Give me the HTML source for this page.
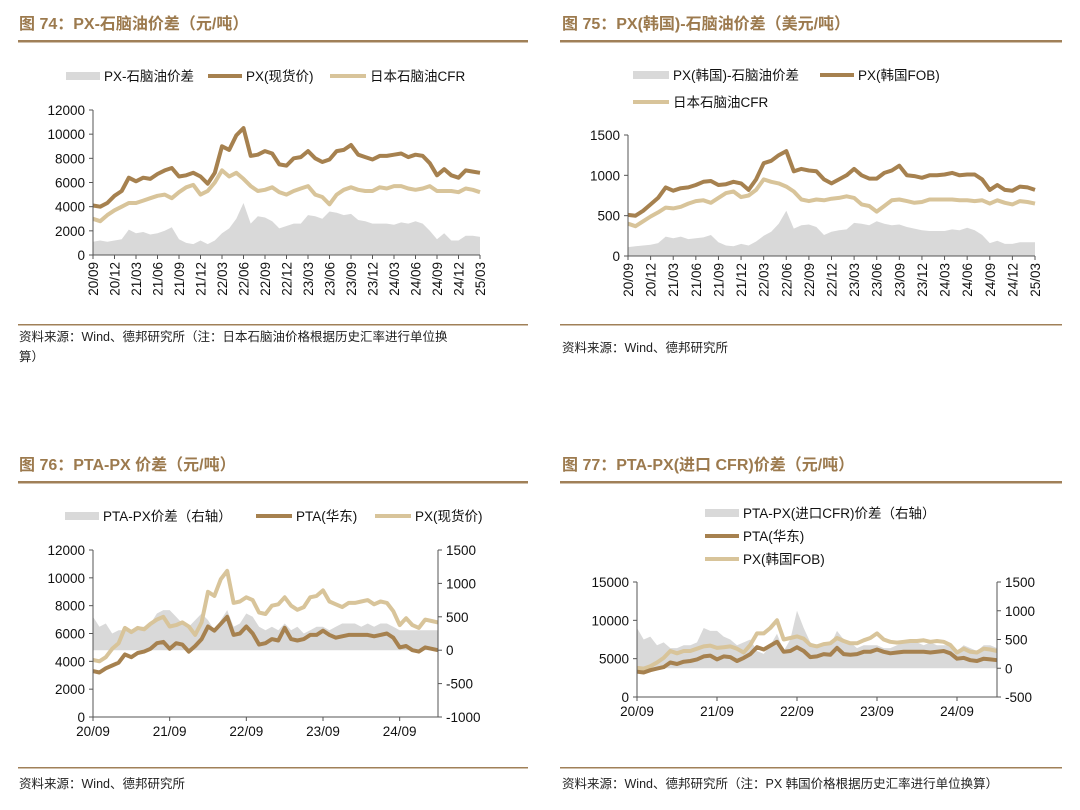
<!DOCTYPE html>
<html><head><meta charset="utf-8"><style>
body{margin:0;background:#fff;width:1080px;height:810px;overflow:hidden}
svg{display:block;font-family:"Liberation Sans","Noto Sans CJK SC",sans-serif}
.t{font-weight:bold;font-size:16px;fill:#9c7a4e}
.ax{font-size:13.5px;fill:#111}
.lg{font-size:13.5px;fill:#111}
.src{font-size:12.5px;fill:#222}
</style></head><body>
<svg id="s" width="1080" height="810" viewBox="0 0 1080 810">
<g>
<text class="t" x="19" y="29">图 74：PX-石脑油价差（元/吨）</text>
<rect x="18" y="40" width="510" height="2.5" fill="#a08058"/>
<text class="t" x="562" y="29">图 75：PX(韩国)-石脑油价差（美元/吨）</text>
<rect x="560" y="40" width="502" height="2.5" fill="#a08058"/>
<text class="t" x="19" y="470">图 76：PTA-PX 价差（元/吨）</text>
<rect x="18" y="481" width="510" height="2.5" fill="#a08058"/>
<text class="t" x="562" y="470">图 77：PTA-PX(进口 CFR)价差（元/吨）</text>
<rect x="560" y="481" width="502" height="2.5" fill="#a08058"/>
<rect x="18" y="324" width="510" height="1.5" fill="#a08058"/>
<rect x="560" y="324" width="502" height="1.5" fill="#a08058"/>
<rect x="18" y="767" width="510" height="1.5" fill="#a08058"/>
<rect x="560" y="767" width="502" height="1.5" fill="#a08058"/>
<text class="src" x="19" y="341">资料来源：Wind、德邦研究所（注：日本石脑油价格根据历史汇率进行单位换</text>
<text class="src" x="19" y="361">算）</text>
<text class="src" x="562" y="352">资料来源：Wind、德邦研究所</text>
<text class="src" x="19" y="788">资料来源：Wind、德邦研究所</text>
<text class="src" x="562" y="788">资料来源：Wind、德邦研究所（注：PX 韩国价格根据历史汇率进行单位换算）</text>
</g>
</svg>
<script>
// Monthly data 2020/09 .. 2025/03
const months = ["20/09","20/10","20/11","20/12","21/01","21/02","21/03","21/04","21/05","21/06","21/07","21/08","21/09","21/10","21/11","21/12","22/01","22/02","22/03","22/04","22/05","22/06","22/07","22/08","22/09","22/10","22/11","22/12","23/01","23/02","23/03","23/04","23/05","23/06","23/07","23/08","23/09","23/10","23/11","23/12","24/01","24/02","24/03","24/04","24/05","24/06","24/07","24/08","24/09","24/10","24/11","24/12","25/01","25/02","25/03"];
const pxSpot = [4100,4000,4300,4900,5300,6400,6100,6400,6300,6700,7000,7200,6500,6600,6800,6500,5900,6800,9000,8700,9900,10500,8200,8300,8600,8400,7500,7400,8000,8100,8600,8000,7700,7900,8600,8700,9100,8300,8100,7900,8200,8200,8300,8400,8100,8300,8200,7600,6600,7100,6600,6400,7000,6900,6800];
const naphthaCny = [3000,2800,3300,3700,4000,4300,4300,4500,4700,4900,5000,4700,5200,5600,5800,5000,5300,6000,7000,6500,6800,6300,5700,5300,5400,5600,5200,5000,5300,5500,5700,5000,4800,4200,5000,5400,5600,5400,5300,5300,5600,5500,5700,5700,5500,5400,5500,5700,5300,5300,5300,5200,5500,5400,5200];
const spreadCny = [1100,1200,1100,1200,1300,2100,1800,1900,1700,1800,2000,2300,1300,1000,900,1200,900,1200,1800,2200,3000,4300,2600,3200,3100,2800,2200,2400,2600,2600,3300,3200,3000,3600,3500,3300,3400,2900,2800,2600,2600,2600,2500,2700,2600,2800,2600,2000,1300,1800,1200,1200,1600,1600,1500];
const pxKoreaUsd = [510,500,560,640,720,850,810,840,850,880,920,930,880,890,920,900,820,950,1150,1180,1250,1300,1050,1080,1060,1050,950,900,950,1000,1080,1000,960,960,1030,1060,1120,1000,990,970,1000,1000,1010,1030,1000,1010,1010,950,820,880,820,810,860,850,820];
const naphthaUsd = [400,370,430,490,540,600,590,610,650,680,690,660,720,780,800,730,750,820,950,920,900,860,800,700,680,700,690,710,720,740,720,640,620,550,620,690,700,680,660,670,700,700,700,700,690,690,680,690,650,690,660,640,680,670,650];
const spreadUsd = [110,120,130,140,160,240,220,240,210,220,230,260,170,130,120,150,130,180,250,300,400,560,340,380,390,360,260,300,320,330,410,400,380,430,400,380,390,360,340,320,310,310,310,330,320,350,320,260,160,190,150,150,170,170,170];
const ptaEast = [3300,3200,3500,3700,3900,4500,4300,4600,4700,4900,5300,5400,4900,5300,5200,4700,5100,5600,6500,6200,6700,7200,5900,6000,6500,6000,5200,5300,5600,5500,6400,5600,5500,5600,5900,5900,6200,5900,5700,5800,5900,5900,5900,5900,5800,5900,6000,5700,5000,5100,4800,4700,5000,4900,4800];
const ptaPxSpread = [500,350,400,250,300,300,250,350,350,400,550,600,600,500,400,350,450,550,450,300,450,600,350,400,550,500,350,300,350,300,400,300,350,250,300,350,350,300,350,400,400,400,350,400,350,400,400,350,300,300,300,300,300,300,300];
const pxKoreaCny = [3800,3700,4000,4500,5100,6000,5700,6000,6000,6300,6600,6700,6400,6500,6600,6300,5800,6800,8300,8300,9000,10000,7500,7700,7900,7600,6800,6600,6900,7000,7700,7300,7000,7000,7400,7700,8300,7500,7200,7100,7200,7300,7300,7400,7200,7300,7200,6800,5800,6300,5900,5800,6300,6200,6000];
const ptaPxCfrSpread = [700,500,550,400,450,350,350,400,400,450,700,650,650,550,500,400,450,500,300,250,400,600,300,500,1000,700,450,400,450,400,650,500,450,350,400,400,400,350,350,400,450,450,450,400,450,400,400,400,300,400,350,300,400,400,350];
const ticks74 = ["0","2000","4000","6000","8000","10000","12000"];
const ticks75 = ["0","500","1000","1500"];
const ticks76L = ["0","2000","4000","6000","8000","10000","12000"];
const ticks76R = ["-1000","-500","0","500","1000","1500"];
const ticks77L = ["0","5000","10000","15000"];
const ticks77R = ["-500","0","500","1000","1500"];

const NS="http://www.w3.org/2000/svg";
const svg=document.getElementById('s');
const DARK="#a6814f",LIGHT="#d8c49a",GRAY="#d9d9d9";
function mk(tag,attrs,parent){const e=document.createElementNS(NS,tag);for(const k in attrs)e.setAttribute(k,attrs[k]);(parent||svg).appendChild(e);return e;}

function chart(c){
  const g=mk('g',{});
  
  
  const n=months.length;
  const xs=i=>c.x0+(c.x1-c.x0)*i/(n-1);
  const yL=v=>c.yb-(c.yb-c.yt)*(v-c.lmin)/(c.lmax-c.lmin);
  const yR=c.rmin!==undefined?(v=>c.yb-(c.yb-c.yt)*(v-c.rmin)/(c.rmax-c.rmin)):yL;
  // area
  const base=yR(0);
  let d='M'+xs(0)+','+base;
  c.area.forEach((v,i)=>{d+=' L'+xs(i).toFixed(1)+','+yR(v).toFixed(1);});
  d+=' L'+xs(n-1)+','+base+' Z';
  const a=mk('path',{d:d,fill:GRAY},g);
  
  
  [[c.dark,DARK,'dark-line'],[c.light,LIGHT,'light-line']].forEach(([arr,col,nm])=>{
    const p=mk('path',{d:arr.map((v,i)=>(i?'L':'M')+xs(i).toFixed(1)+','+yL(v).toFixed(1)).join(' '),fill:'none',stroke:col,'stroke-width':4,'stroke-linejoin':'round'},g);
    
    
  });
  if(c.lightFirst){g.appendChild(g.children[1]);}
  // axes
  mk('line',{x1:c.x0,y1:c.yt,x2:c.x0,y2:c.yb,stroke:'#555'},g);
  mk('line',{x1:c.x0,y1:c.yb,x2:c.x1,y2:c.yb,stroke:'#555'},g);
  c.ticksL.forEach(t=>{const y=yL(+t);mk('line',{x1:c.x0-4,y1:y,x2:c.x0,y2:y,stroke:'#555'},g);
    const tx=mk('text',{x:c.x0-8,y:y+5,'text-anchor':'end',class:'ax'},g);tx.textContent=t;
    
    });
  if(c.ticksR){mk('line',{x1:c.x1,y1:c.yt,x2:c.x1,y2:c.yb,stroke:'#555'},g);
    c.ticksR.forEach(t=>{const y=yR(+t);mk('line',{x1:c.x1,y1:y,x2:c.x1+4,y2:y,stroke:'#555'},g);
    const tx=mk('text',{x:c.x1+8,y:y+5,class:'ax'},g);tx.textContent=t;
    
    });}
  for(let i=0;i<n;i+=c.step){const x=xs(i);mk('line',{x1:x,y1:c.yb,x2:x,y2:c.yb+4,stroke:'#555'},g);
    let tx;
    if(c.rot){tx=mk('text',{x:0,y:0,'text-anchor':'end',class:'ax',transform:`translate(${x+5},${c.yb+7}) rotate(-90)`},g);}
    else{tx=mk('text',{x:x,y:c.yb+19,'text-anchor':'middle',class:'ax'},g);}
    tx.textContent=months[i];
    
    }
  // legend
  c.legend.forEach(([x,y,w,type,label])=>{
    if(type==='a')mk('rect',{x:x,y:y-4,width:w,height:8,fill:GRAY},g);
    else mk('line',{x1:x,y1:y,x2:x+w,y2:y,stroke:type==='d'?DARK:LIGHT,'stroke-width':4},g);
    const tx=mk('text',{x:x+w+4,y:y+5,class:'lg'},g);tx.textContent=label;
    
    
  });
}
chart({name:'chart74',x0:93,x1:480,yt:110,yb:255,lmin:0,lmax:12000,area:spreadCny,dark:pxSpot,light:naphthaCny,ticksL:ticks74,step:3,rot:true,
 legend:[[66,76,34,'a','PX-石脑油价差'],[208,76,34,'d','PX(现货价)'],[330,76,36,'l','日本石脑油CFR']]});
chart({name:'chart75',x0:628,x1:1035,yt:135,yb:256,lmin:0,lmax:1500,area:spreadUsd,dark:pxKoreaUsd,light:naphthaUsd,ticksL:ticks75,step:3,rot:true,
 legend:[[633,75,36,'a','PX(韩国)-石脑油价差'],[820,75,34,'d','PX(韩国FOB)'],[633,102,36,'l','日本石脑油CFR']]});
chart({name:'chart76',x0:93,x1:438,yt:550,yb:717,lmin:0,lmax:12000,rmin:-1000,rmax:1500,area:ptaPxSpread,dark:ptaEast,light:pxSpot,lightFirst:true,ticksL:ticks76L,ticksR:ticks76R,step:12,rot:false,
 legend:[[65,516,34,'a','PTA-PX价差（右轴）'],[256,516,36,'d','PTA(华东)'],[375,516,36,'l','PX(现货价)']]});
chart({name:'chart77',x0:637,x1:997,yt:582,yb:697,lmin:0,lmax:15000,rmin:-500,rmax:1500,area:ptaPxCfrSpread,dark:ptaEast,light:pxKoreaCny,lightFirst:true,ticksL:ticks77L,ticksR:ticks77R,step:12,rot:false,
 legend:[[705,513,34,'a','PTA-PX(进口CFR)价差（右轴）'],[705,536,34,'d','PTA(华东)'],[705,559,34,'l','PX(韩国FOB)']]});
</script>
</body></html>
